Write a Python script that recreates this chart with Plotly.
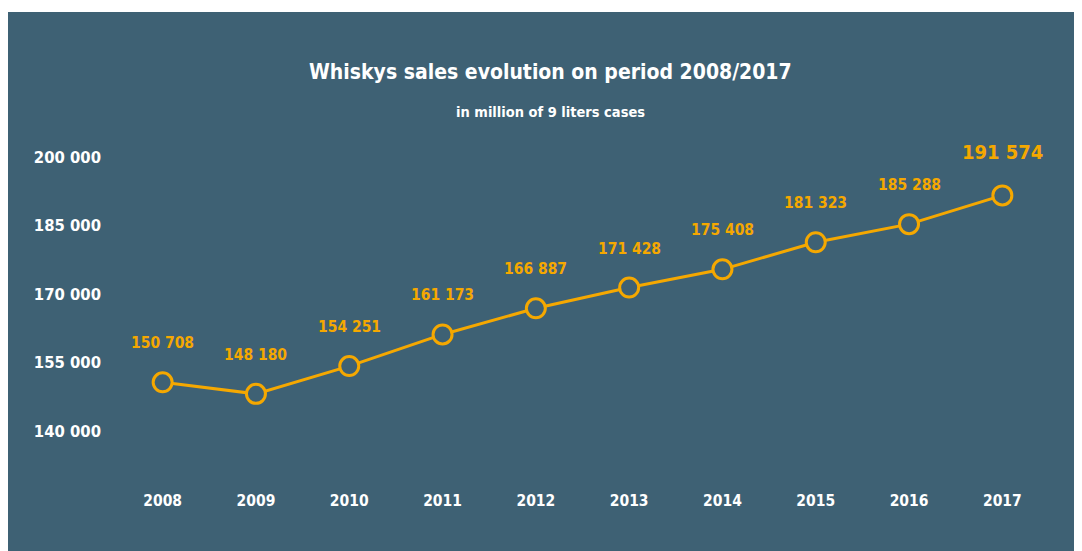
import plotly.graph_objects as go

years = ["2008", "2009", "2010", "2011", "2012", "2013", "2014", "2015", "2016", "2017"]
sales = [150708, 148180, 154251, 161173, 166887, 171428, 175408, 181323, 185288, 191574]
labels = ["150 708", "148 180", "154 251", "161 173", "166 887", "171 428", "175 408", "181 323", "185 288", "191 574"]
ytick_vals = [140000, 155000, 170000, 185000, 200000]
ytick_text = ["140 000", "155 000", "170 000", "185 000", "200 000"]
title = "Whiskys sales evolution on period 2008/2017"
subtitle = "in million of 9 liters cases"

BG = "#3e6174"
ORANGE = "#f5a800"
FONT = "DejaVu Sans Condensed, DejaVu Sans, sans-serif"

# figure geometry (page is offset by 8 px body margin)
FW, FH = 1074, 543
ML, MR, MT, MB = 108, 33, 126, 74
PW, PH = FW - ML - MR, FH - MT - MB


def px_to_paper_x(px):
    return (px - ML) / PW


def px_to_paper_y(py):
    return (FH - MB - py) / PH


fig = go.Figure()
fig.add_trace(go.Scatter(
    x=years, y=sales, mode="lines+markers",
    line=dict(color=ORANGE, width=3),
    marker=dict(symbol="circle", size=19, color=BG, line=dict(color=ORANGE, width=3)),
    hoverinfo="skip", showlegend=False,
))

annotations = []
for i, (yr, v, t) in enumerate(zip(years, sales, labels)):
    last = i == len(years) - 1
    annotations.append(dict(
        x=i, y=v, xref="x", yref="y", text=t, showarrow=False,
        xanchor="center", yanchor="middle",
        yshift=43 if last else 39,
        font=dict(family=FONT, size=20 if last else 15.5, color=ORANGE, weight="bold"),
    ))

annotations.append(dict(xref="paper", yref="paper", x=px_to_paper_x(542), y=px_to_paper_y(64),
                        text=title, showarrow=False, xanchor="center", yanchor="middle",
                        font=dict(family=FONT, size=21, color="white", weight="bold")))
annotations.append(dict(xref="paper", yref="paper", x=px_to_paper_x(542), y=px_to_paper_y(104),
                        text=subtitle, showarrow=False, xanchor="center", yanchor="middle",
                        font=dict(family=FONT, size=14.5, color="white", weight="bold")))

shapes = [
    dict(type="rect", xref="paper", yref="paper",
         x0=px_to_paper_x(0), x1=px_to_paper_x(FW), y0=px_to_paper_y(4), y1=px_to_paper_y(0),
         fillcolor="white", line_width=0, layer="below"),
    dict(type="rect", xref="paper", yref="paper",
         x0=px_to_paper_x(1068), x1=px_to_paper_x(FW), y0=px_to_paper_y(FH), y1=px_to_paper_y(0),
         fillcolor="white", line_width=0, layer="below"),
]

fig.update_layout(
    width=FW, height=FH,
    paper_bgcolor=BG, plot_bgcolor=BG,
    margin=dict(l=ML, r=MR, t=MT, b=MB),
    xaxis=dict(type="category", range=[-0.5, 9.5], showgrid=False, zeroline=False, showline=False,
               ticks="", tickfont=dict(family=FONT, size=15.5, color="white", weight="bold"),
               ticklabelstandoff=12),
    yaxis=dict(range=[130000, 205000], tickvals=ytick_vals, ticktext=ytick_text,
               showgrid=False, zeroline=False, showline=False, ticks="",
               tickfont=dict(family=FONT, size=16.5, color="white", weight="bold"),
               ticklabelstandoff=14),
    annotations=annotations,
    shapes=shapes,
)

fig.write_html("out.html")
